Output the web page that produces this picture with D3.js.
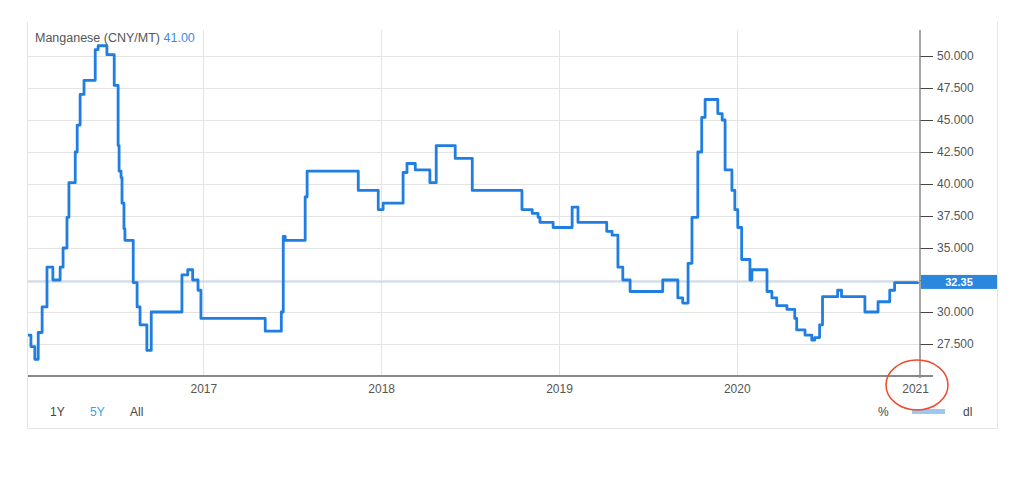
<!DOCTYPE html>
<html><head><meta charset="utf-8">
<script src="https://cdn.jsdelivr.net/npm/d3@7"></script>
<style>
body{margin:0;background:#fff;}
text{font-family:"Liberation Sans",Arial,sans-serif;}
</style>
</head><body>
<svg id="c" width="1024" height="486"></svg>
<script>
const titleText = "Manganese (CNY/MT)";
const hoverValue = "41.00";
const lastValue = 32.35;
const dates = ["2016-01-07","2016-01-13","2016-01-21","2016-01-28","2016-02-05","2016-02-15","2016-02-27","2016-03-13","2016-03-19","2016-03-27","2016-03-31","2016-04-13","2016-04-17","2016-04-23","2016-05-01","2016-05-24","2016-05-30","2016-06-17","2016-07-02","2016-07-10","2016-07-12","2016-07-16","2016-07-18","2016-07-22","2016-07-24","2016-08-10","2016-08-18","2016-08-24","2016-09-07","2016-09-16","2016-11-18","2016-11-30","2016-12-10","2016-12-21","2016-12-27","2017-05-08","2017-06-10","2017-06-14","2017-06-18","2017-07-29","2017-08-02","2017-11-15","2017-12-26","2018-01-05","2018-02-15","2018-02-23","2018-03-12","2018-04-11","2018-04-24","2018-06-02","2018-07-07","2018-10-17","2018-11-07","2018-11-19","2018-11-23","2018-12-20","2019-01-28","2019-02-09","2019-04-09","2019-04-20","2019-05-02","2019-05-12","2019-05-27","2019-08-02","2019-09-02","2019-09-12","2019-09-23","2019-10-01","2019-10-13","2019-10-21","2019-10-28","2019-11-23","2019-12-02","2019-12-08","2019-12-22","2019-12-28","2020-01-03","2020-01-11","2020-01-28","2020-02-01","2020-03-03","2020-03-13","2020-03-23","2020-04-13","2020-04-29","2020-05-03","2020-05-20","2020-06-03","2020-06-09","2020-06-19","2020-06-25","2020-07-26","2020-08-03","2020-09-20","2020-10-17","2020-11-10","2020-11-20","2021-01-07"];
const values = [28.2,27.3,26.3,28.4,30.4,33.5,32.5,33.5,35.0,37.4,40.1,42.5,44.6,47.0,48.1,50.5,50.8,50.1,47.7,43.0,41.0,40.5,38.5,36.5,35.6,32.3,30.4,29.0,27.0,30.0,32.9,33.3,32.5,31.7,29.5,28.5,30.0,35.9,35.6,39.0,41.0,39.5,38.0,38.5,40.9,41.6,41.1,40.1,43.0,42.0,39.5,38.0,37.7,37.4,37.0,36.6,38.2,37.0,36.3,36.0,33.5,32.5,31.6,32.5,31.1,30.7,33.8,37.4,42.5,45.2,46.6,45.5,45.0,41.1,39.5,38.0,36.6,34.1,32.5,33.3,31.6,31.1,30.5,30.2,29.5,28.6,28.2,27.8,28.0,29.0,31.2,31.7,31.2,30.0,30.8,31.7,32.3,32.35];
const gridTicks = [27.5,30,32.5,35,37.5,40,42.5,45,47.5,50];
const labelTicks = [27.5,30,35,37.5,40,42.5,45,47.5,50];
const xTickYears = ["2017","2018","2019","2020","2021"];
const rangeButtons = ["1Y","5Y","All"];
const activeRange = "5Y";

const parse = d3.timeParse("%Y-%m-%d");
const data = dates.map((d,i)=>({date:parse(d), value:values[i]}));

const svg = d3.select("#c");
const plotL = 28, plotR = 918, plotT = 30, plotB = 376;
const FONT = "'Liberation Sans',Arial,sans-serif";

const x = d3.scaleTime().domain([data[0].date, data[data.length-1].date]).range([plotL, plotR]);
const y = d3.scaleLinear().domain([27.5, 50]).range([344, 56]);

// panel border
svg.append("path").attr("d", `M27.5,22 V428.5 H997.5 V22`).attr("fill","none").attr("stroke","#e3e3e3").attr("stroke-width",1);

// horizontal grid
svg.append("g").selectAll("line").data(gridTicks).join("line")
  .attr("x1", plotL).attr("x2", 920).attr("y1", d=>Math.round(y(d))+0.5).attr("y2", d=>Math.round(y(d))+0.5)
  .attr("stroke","#e4e4e4").attr("stroke-width",1);

// vertical grid
const xTicks = xTickYears.map(s=>parse(s+"-01-01"));
svg.append("g").selectAll("line").data(xTicks.slice(0,-1)).join("line")
  .attr("x1", d=>Math.round(x(d))+0.5).attr("x2", d=>Math.round(x(d))+0.5)
  .attr("y1", plotT).attr("y2", plotB)
  .attr("stroke","#e4e4e4").attr("stroke-width",1);

// current value line
svg.append("line").attr("x1", plotL).attr("x2", 920)
  .attr("y1", y(lastValue)).attr("y2", y(lastValue))
  .attr("stroke","#a6c9ee").attr("stroke-width",1);

// data line
svg.append("path").datum(data)
  .attr("d", d3.line().x(d=>x(d.date)).y(d=>y(d.value)).curve(d3.curveStepAfter))
  .attr("fill","none").attr("stroke","#1f7ee0").attr("stroke-width",2.8)
  .attr("stroke-linejoin","round");

// y axis (right)
const yAxis = d3.axisRight(y).tickValues(gridTicks).tickSize(13).tickPadding(4)
  .tickFormat(d=>labelTicks.includes(d) ? d.toFixed(3) : "");
const gy = svg.append("g").attr("transform","translate(920,0)").call(yAxis);
gy.select(".domain").remove();
gy.selectAll(".tick line").attr("stroke","#444").attr("stroke-width",1);
gy.selectAll(".tick text").attr("fill","#555").attr("font-size",12).style("font-family",FONT);
svg.append("line").attr("x1",920).attr("x2",920).attr("y1",plotT).attr("y2",plotB+2)
  .attr("stroke","#888").attr("stroke-width",1.5);

// x axis
const xAxis = d3.axisBottom(x).tickValues(xTicks).tickSize(0).tickPadding(8).tickFormat(d3.timeFormat("%Y"));
const gx = svg.append("g").attr("transform",`translate(0,${plotB})`).call(xAxis);
gx.select(".domain").remove();
gx.selectAll(".tick text").attr("fill","#555").attr("font-size",12).style("font-family",FONT);
svg.append("line").attr("x1",plotL).attr("x2",933).attr("y1",plotB).attr("y2",plotB)
  .attr("stroke","#888").attr("stroke-width",2);

// badge
const by = y(lastValue);
svg.append("rect").attr("x",921).attr("y",by-7).attr("width",76).attr("height",14).attr("fill","#2b86de");
svg.append("text").attr("x",959).attr("y",by+4).attr("text-anchor","middle")
  .attr("fill","#fff").attr("font-size",11).attr("font-weight","bold").text(lastValue.toFixed(2));

// title
const t = svg.append("text").attr("x",35).attr("y",42).attr("font-size",12.5).attr("fill","#555");
t.append("tspan").text(titleText + " ");
t.append("tspan").attr("fill","#3a8ee0").text(hoverValue);

// range buttons
svg.append("g").selectAll("text").data(rangeButtons).join("text")
  .attr("x",(d,i)=>50+i*40).attr("y",416).attr("font-size",12)
  .attr("fill",d=>d===activeRange?"#3aa0e8":"#444").text(d=>d);

// right controls
svg.append("text").attr("x",878).attr("y",416).attr("font-size",12).attr("fill","#444").text("%");
svg.append("rect").attr("x",912).attr("y",409).attr("width",33).attr("height",5).attr("fill","#9cc7ef");
svg.append("text").attr("x",963).attr("y",416).attr("font-size",12).attr("fill","#444").text("dl");

// red circle annotation
svg.append("ellipse").attr("cx",917).attr("cy",385).attr("rx",31).attr("ry",25)
  .attr("fill","none").attr("stroke","#ee4a2e").attr("stroke-width",1.5);
</script>
</body></html>
